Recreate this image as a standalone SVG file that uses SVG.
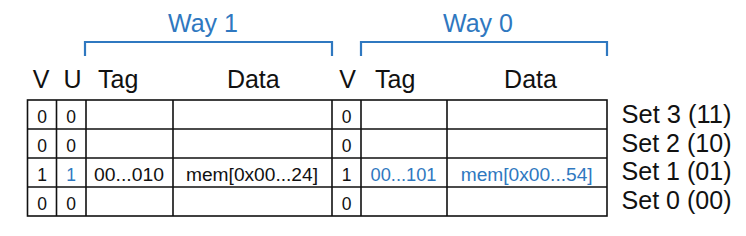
<svg xmlns="http://www.w3.org/2000/svg" width="746" height="236" viewBox="0 0 746 236">
<style>
.big{font-family:"Liberation Sans",Arial,sans-serif;font-size:25px;fill:#111}
.way{font-family:"Liberation Sans",Arial,sans-serif;font-size:25px;fill:#2f78c0}
.cell{font-family:"Liberation Sans",Arial,sans-serif;font-size:17.5px;fill:#111;text-anchor:middle}
.blue{fill:#2f78c0}
.grid{stroke:#111;stroke-width:1.6;fill:none}
.brk{stroke:#2f78c0;stroke-width:2.2;fill:none}
</style>
<rect width="746" height="236" fill="#fff"/>
<g id="way-labels">
<text class="way" x="203" y="32" text-anchor="middle">Way 1</text>
<text class="way" x="478" y="32" text-anchor="middle">Way 0</text>
</g>
<g id="brackets">
<path class="brk" d="M85,56 V42 H332 V56"/>
<path class="brk" d="M361,56 V42 H607 V56"/>
</g>
<g id="headers">
<text class="big" x="41.2" y="88" text-anchor="middle">V</text>
<text class="big" x="72.5" y="88" text-anchor="middle">U</text>
<text class="big" x="98" y="88">Tag</text>
<text class="big" x="253.3" y="88" text-anchor="middle">Data</text>
<text class="big" x="347.5" y="88" text-anchor="middle">V</text>
<text class="big" x="375" y="88">Tag</text>
<text class="big" x="530.5" y="88" text-anchor="middle">Data</text>
</g>
<g id="table">
<rect class="grid" x="27.5" y="100" width="579.5" height="116"/>
<path class="grid" d="M27.5,129 H607 M27.5,158 H607 M27.5,187 H607 M56.5,100 V216 M86,100 V216 M173,100 V216 M361,100 V216 M447,100 V216"/>
<path class="grid" d="M332,100 V216" stroke-width="2.4"/>
</g>
<g id="cells">
<text class="cell" x="42" y="122.5">0</text>
<text class="cell" x="71" y="122.5">0</text>
<text class="cell" x="346.5" y="122.5">0</text>
<text class="cell" x="42" y="151.5">0</text>
<text class="cell" x="71" y="151.5">0</text>
<text class="cell" x="346.5" y="151.5">0</text>
<text class="cell" x="42" y="180.5">1</text>
<text class="cell blue" x="71" y="180.5">1</text>
<text class="cell" x="129" y="180.5" textLength="70" lengthAdjust="spacingAndGlyphs">00...010</text>
<text class="cell" x="252" y="180.5" textLength="132" lengthAdjust="spacingAndGlyphs">mem[0x00...24]</text>
<text class="cell" x="346.5" y="180.5">1</text>
<text class="cell blue" x="403.5" y="180.5" textLength="66" lengthAdjust="spacingAndGlyphs">00...101</text>
<text class="cell blue" x="526.7" y="180.5" textLength="132" lengthAdjust="spacingAndGlyphs">mem[0x00...54]</text>
<text class="cell" x="42" y="209.5">0</text>
<text class="cell" x="71" y="209.5">0</text>
<text class="cell" x="346.5" y="209.5">0</text>
</g>
<g id="set-labels">
<text class="big" x="621.5" y="123" textLength="110" lengthAdjust="spacingAndGlyphs">Set 3 (11)</text>
<text class="big" x="621.5" y="151.5" textLength="110" lengthAdjust="spacingAndGlyphs">Set 2 (10)</text>
<text class="big" x="621.5" y="180" textLength="110" lengthAdjust="spacingAndGlyphs">Set 1 (01)</text>
<text class="big" x="621.5" y="208.5" textLength="110" lengthAdjust="spacingAndGlyphs">Set 0 (00)</text>
</g>
</svg>
